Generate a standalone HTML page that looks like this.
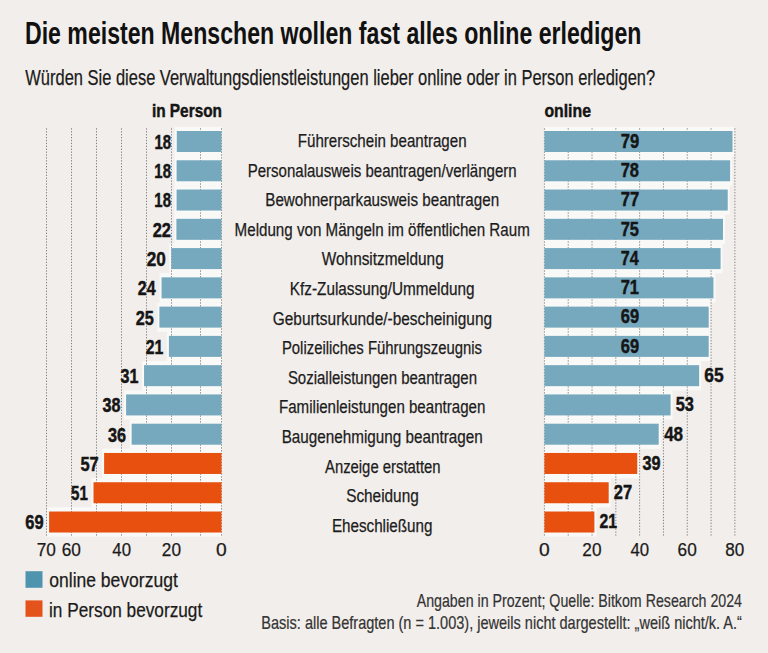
<!DOCTYPE html>
<html lang="de"><head><meta charset="utf-8"><title>Die meisten Menschen wollen fast alles online erledigen</title>
<style>
html,body{margin:0;padding:0;background:#f2eeeb;}
body{width:768px;height:653px;overflow:hidden;}
svg{display:block;font-family:"Liberation Sans",Arial,sans-serif;}
.g{stroke:#808080;stroke-width:1;stroke-dasharray:1.3 1.6;}
.sb{stroke:#151515;stroke-width:0.45;}
.sr{stroke:#1c1c1c;stroke-width:0.25;}
.s3{stroke:#333;stroke-width:0.2;}
</style></head><body>
<svg width="768" height="653" viewBox="0 0 768 653">
<rect width="768" height="653" fill="#f2eeeb"/>
<rect x="174.80" y="126.80" width="47.20" height="29.40" fill="#f9f9f8"/>
<rect x="543.90" y="126.80" width="190.60" height="29.40" fill="#f9f9f8"/>
<rect x="174.60" y="156.07" width="47.40" height="29.40" fill="#f9f9f8"/>
<rect x="543.90" y="156.07" width="188.22" height="29.40" fill="#f9f9f8"/>
<rect x="174.60" y="185.34" width="47.40" height="29.40" fill="#f9f9f8"/>
<rect x="543.90" y="185.34" width="185.84" height="29.40" fill="#f9f9f8"/>
<rect x="174.40" y="214.61" width="47.60" height="29.40" fill="#f9f9f8"/>
<rect x="543.90" y="214.61" width="181.07" height="29.40" fill="#f9f9f8"/>
<rect x="169.30" y="243.88" width="52.70" height="29.40" fill="#f9f9f8"/>
<rect x="543.90" y="243.88" width="178.69" height="29.40" fill="#f9f9f8"/>
<rect x="159.60" y="273.15" width="62.40" height="29.40" fill="#f9f9f8"/>
<rect x="543.90" y="273.15" width="171.55" height="29.40" fill="#f9f9f8"/>
<rect x="157.40" y="302.42" width="64.60" height="29.40" fill="#f9f9f8"/>
<rect x="543.90" y="302.42" width="166.79" height="29.40" fill="#f9f9f8"/>
<rect x="166.90" y="331.69" width="55.10" height="29.40" fill="#f9f9f8"/>
<rect x="543.90" y="331.69" width="166.79" height="29.40" fill="#f9f9f8"/>
<rect x="142.05" y="360.96" width="79.95" height="29.40" fill="#f9f9f8"/>
<rect x="543.90" y="360.96" width="157.26" height="29.40" fill="#f9f9f8"/>
<rect x="124.10" y="390.23" width="97.90" height="29.40" fill="#f9f9f8"/>
<rect x="543.90" y="390.23" width="128.69" height="29.40" fill="#f9f9f8"/>
<rect x="129.65" y="419.50" width="92.35" height="29.40" fill="#f9f9f8"/>
<rect x="543.90" y="419.50" width="116.79" height="29.40" fill="#f9f9f8"/>
<rect x="102.10" y="448.77" width="119.90" height="29.40" fill="#f9f9f8"/>
<rect x="543.90" y="448.77" width="95.36" height="29.40" fill="#f9f9f8"/>
<rect x="91.50" y="478.04" width="130.50" height="29.40" fill="#f9f9f8"/>
<rect x="543.90" y="478.04" width="66.79" height="29.40" fill="#f9f9f8"/>
<rect x="47.10" y="507.31" width="174.90" height="29.40" fill="#f9f9f8"/>
<rect x="543.90" y="507.31" width="52.50" height="29.40" fill="#f9f9f8"/>
<line x1="221.50" y1="128.3" x2="221.50" y2="536.4" class="g"/>
<line x1="200.50" y1="128.3" x2="200.50" y2="536.4" class="g"/>
<line x1="171.50" y1="128.3" x2="171.50" y2="536.4" class="g"/>
<line x1="146.50" y1="128.3" x2="146.50" y2="536.4" class="g"/>
<line x1="121.50" y1="128.3" x2="121.50" y2="536.4" class="g"/>
<line x1="96.50" y1="128.3" x2="96.50" y2="536.4" class="g"/>
<line x1="71.50" y1="128.3" x2="71.50" y2="536.4" class="g"/>
<line x1="46.50" y1="128.3" x2="46.50" y2="536.4" class="g"/>
<line x1="544.40" y1="128.3" x2="544.40" y2="536.4" class="g"/>
<line x1="568.21" y1="128.3" x2="568.21" y2="536.4" class="g"/>
<line x1="592.02" y1="128.3" x2="592.02" y2="536.4" class="g"/>
<line x1="615.83" y1="128.3" x2="615.83" y2="536.4" class="g"/>
<line x1="639.64" y1="128.3" x2="639.64" y2="536.4" class="g"/>
<line x1="663.45" y1="128.3" x2="663.45" y2="536.4" class="g"/>
<line x1="687.26" y1="128.3" x2="687.26" y2="536.4" class="g"/>
<line x1="711.07" y1="128.3" x2="711.07" y2="536.4" class="g"/>
<line x1="734.88" y1="128.3" x2="734.88" y2="536.4" class="g"/>
<rect x="176.80" y="131.00" width="44.70" height="21.00" fill="#76a8be"/>
<rect x="544.40" y="131.00" width="188.10" height="21.00" fill="#76a8be"/>
<rect x="176.60" y="160.27" width="44.90" height="21.00" fill="#76a8be"/>
<rect x="544.40" y="160.27" width="185.72" height="21.00" fill="#76a8be"/>
<rect x="176.60" y="189.54" width="44.90" height="21.00" fill="#76a8be"/>
<rect x="544.40" y="189.54" width="183.34" height="21.00" fill="#76a8be"/>
<rect x="176.40" y="218.81" width="45.10" height="21.00" fill="#76a8be"/>
<rect x="544.40" y="218.81" width="178.57" height="21.00" fill="#76a8be"/>
<rect x="171.30" y="248.08" width="50.20" height="21.00" fill="#76a8be"/>
<rect x="544.40" y="248.08" width="176.19" height="21.00" fill="#76a8be"/>
<rect x="161.60" y="277.35" width="59.90" height="21.00" fill="#76a8be"/>
<rect x="544.40" y="277.35" width="169.05" height="21.00" fill="#76a8be"/>
<rect x="159.40" y="306.62" width="62.10" height="21.00" fill="#76a8be"/>
<rect x="544.40" y="306.62" width="164.29" height="21.00" fill="#76a8be"/>
<rect x="168.90" y="335.89" width="52.60" height="21.00" fill="#76a8be"/>
<rect x="544.40" y="335.89" width="164.29" height="21.00" fill="#76a8be"/>
<rect x="144.05" y="365.16" width="77.45" height="21.00" fill="#76a8be"/>
<rect x="544.40" y="365.16" width="154.76" height="21.00" fill="#76a8be"/>
<rect x="126.10" y="394.43" width="95.40" height="21.00" fill="#76a8be"/>
<rect x="544.40" y="394.43" width="126.19" height="21.00" fill="#76a8be"/>
<rect x="131.65" y="423.70" width="89.85" height="21.00" fill="#76a8be"/>
<rect x="544.40" y="423.70" width="114.29" height="21.00" fill="#76a8be"/>
<rect x="104.10" y="452.97" width="117.40" height="21.00" fill="#e8500f"/>
<rect x="544.40" y="452.97" width="92.86" height="21.00" fill="#e8500f"/>
<rect x="93.50" y="482.24" width="128.00" height="21.00" fill="#e8500f"/>
<rect x="544.40" y="482.24" width="64.29" height="21.00" fill="#e8500f"/>
<rect x="49.10" y="511.51" width="172.40" height="21.00" fill="#e8500f"/>
<rect x="544.40" y="511.51" width="50.00" height="21.00" fill="#e8500f"/>
<text x="171.16" y="148.90" text-anchor="end" textLength="16.60" lengthAdjust="spacingAndGlyphs" style="font-size:19.40px;font-weight:bold;" fill="#151515" class="sb">18</text>
<text x="620.69" y="147.70" text-anchor="start" textLength="18.43" lengthAdjust="spacingAndGlyphs" style="font-size:19.40px;font-weight:bold;" fill="#151515" class="sb">79</text>
<text x="382.17" y="146.90" text-anchor="middle" textLength="168.82" lengthAdjust="spacingAndGlyphs" style="font-size:18.30px;" fill="#1c1c1c" class="sr">Führerschein beantragen</text>
<text x="170.96" y="178.17" text-anchor="end" textLength="16.60" lengthAdjust="spacingAndGlyphs" style="font-size:19.40px;font-weight:bold;" fill="#151515" class="sb">18</text>
<text x="620.69" y="176.97" text-anchor="start" textLength="18.31" lengthAdjust="spacingAndGlyphs" style="font-size:19.40px;font-weight:bold;" fill="#151515" class="sb">78</text>
<text x="382.17" y="176.50" text-anchor="middle" textLength="268.91" lengthAdjust="spacingAndGlyphs" style="font-size:18.30px;" fill="#1c1c1c" class="sr">Personalausweis beantragen/verlängern</text>
<text x="170.96" y="207.44" text-anchor="end" textLength="16.60" lengthAdjust="spacingAndGlyphs" style="font-size:19.40px;font-weight:bold;" fill="#151515" class="sb">18</text>
<text x="620.68" y="206.24" text-anchor="start" textLength="18.55" lengthAdjust="spacingAndGlyphs" style="font-size:19.40px;font-weight:bold;" fill="#151515" class="sb">77</text>
<text x="382.17" y="206.10" text-anchor="middle" textLength="233.83" lengthAdjust="spacingAndGlyphs" style="font-size:18.30px;" fill="#1c1c1c" class="sr">Bewohnerparkausweis beantragen</text>
<text x="170.96" y="236.71" text-anchor="end" textLength="18.33" lengthAdjust="spacingAndGlyphs" style="font-size:19.40px;font-weight:bold;" fill="#151515" class="sb">22</text>
<text x="620.69" y="235.51" text-anchor="start" textLength="18.26" lengthAdjust="spacingAndGlyphs" style="font-size:19.40px;font-weight:bold;" fill="#151515" class="sb">75</text>
<text x="382.18" y="235.70" text-anchor="middle" textLength="295.14" lengthAdjust="spacingAndGlyphs" style="font-size:18.30px;" fill="#1c1c1c" class="sr">Meldung von Mängeln im öffentlichen Raum</text>
<text x="165.90" y="265.98" text-anchor="end" textLength="19.10" lengthAdjust="spacingAndGlyphs" style="font-size:19.40px;font-weight:bold;" fill="#151515" class="sb">20</text>
<text x="620.71" y="264.78" text-anchor="start" textLength="17.88" lengthAdjust="spacingAndGlyphs" style="font-size:19.40px;font-weight:bold;" fill="#151515" class="sb">74</text>
<text x="382.76" y="265.30" text-anchor="middle" textLength="121.86" lengthAdjust="spacingAndGlyphs" style="font-size:18.30px;" fill="#1c1c1c" class="sr">Wohnsitzmeldung</text>
<text x="155.59" y="295.25" text-anchor="end" textLength="17.74" lengthAdjust="spacingAndGlyphs" style="font-size:19.40px;font-weight:bold;" fill="#151515" class="sb">24</text>
<text x="620.69" y="294.05" text-anchor="start" textLength="18.26" lengthAdjust="spacingAndGlyphs" style="font-size:19.40px;font-weight:bold;" fill="#151515" class="sb">71</text>
<text x="382.17" y="294.90" text-anchor="middle" textLength="184.74" lengthAdjust="spacingAndGlyphs" style="font-size:18.30px;" fill="#1c1c1c" class="sr">Kfz-Zulassung/Ummeldung</text>
<text x="153.75" y="324.52" text-anchor="end" textLength="18.12" lengthAdjust="spacingAndGlyphs" style="font-size:19.40px;font-weight:bold;" fill="#151515" class="sb">25</text>
<text x="620.80" y="323.32" text-anchor="start" textLength="18.31" lengthAdjust="spacingAndGlyphs" style="font-size:19.40px;font-weight:bold;" fill="#151515" class="sb">69</text>
<text x="382.41" y="324.50" text-anchor="middle" textLength="219.27" lengthAdjust="spacingAndGlyphs" style="font-size:18.30px;" fill="#1c1c1c" class="sr">Geburtsurkunde/-bescheinigung</text>
<text x="163.24" y="353.79" text-anchor="end" textLength="17.59" lengthAdjust="spacingAndGlyphs" style="font-size:19.40px;font-weight:bold;" fill="#151515" class="sb">21</text>
<text x="620.80" y="352.59" text-anchor="start" textLength="18.31" lengthAdjust="spacingAndGlyphs" style="font-size:19.40px;font-weight:bold;" fill="#151515" class="sb">69</text>
<text x="381.96" y="354.10" text-anchor="middle" textLength="200.06" lengthAdjust="spacingAndGlyphs" style="font-size:18.30px;" fill="#1c1c1c" class="sr">Polizeiliches Führungszeugnis</text>
<text x="138.40" y="383.06" text-anchor="end" textLength="17.92" lengthAdjust="spacingAndGlyphs" style="font-size:19.40px;font-weight:bold;" fill="#151515" class="sb">31</text>
<text x="704.23" y="381.96" text-anchor="start" textLength="19.43" lengthAdjust="spacingAndGlyphs" style="font-size:19.40px;font-weight:bold;" fill="#151515" class="sb">65</text>
<text x="382.45" y="383.70" text-anchor="middle" textLength="189.15" lengthAdjust="spacingAndGlyphs" style="font-size:18.30px;" fill="#1c1c1c" class="sr">Sozialleistungen beantragen</text>
<text x="120.50" y="412.33" text-anchor="end" textLength="17.97" lengthAdjust="spacingAndGlyphs" style="font-size:19.40px;font-weight:bold;" fill="#151515" class="sb">38</text>
<text x="675.79" y="411.23" text-anchor="start" textLength="18.19" lengthAdjust="spacingAndGlyphs" style="font-size:19.40px;font-weight:bold;" fill="#151515" class="sb">53</text>
<text x="382.17" y="413.30" text-anchor="middle" textLength="206.32" lengthAdjust="spacingAndGlyphs" style="font-size:18.30px;" fill="#1c1c1c" class="sr">Familienleistungen beantragen</text>
<text x="126.14" y="441.60" text-anchor="end" textLength="18.06" lengthAdjust="spacingAndGlyphs" style="font-size:19.40px;font-weight:bold;" fill="#151515" class="sb">36</text>
<text x="664.13" y="440.50" text-anchor="start" textLength="18.98" lengthAdjust="spacingAndGlyphs" style="font-size:19.40px;font-weight:bold;" fill="#151515" class="sb">48</text>
<text x="382.17" y="442.90" text-anchor="middle" textLength="200.99" lengthAdjust="spacingAndGlyphs" style="font-size:18.30px;" fill="#1c1c1c" class="sr">Baugenehmigung beantragen</text>
<text x="98.72" y="470.87" text-anchor="end" textLength="18.33" lengthAdjust="spacingAndGlyphs" style="font-size:19.40px;font-weight:bold;" fill="#151515" class="sb">57</text>
<text x="642.59" y="469.77" text-anchor="start" textLength="18.08" lengthAdjust="spacingAndGlyphs" style="font-size:19.40px;font-weight:bold;" fill="#151515" class="sb">39</text>
<text x="382.77" y="472.50" text-anchor="middle" textLength="115.59" lengthAdjust="spacingAndGlyphs" style="font-size:18.30px;" fill="#1c1c1c" class="sr">Anzeige erstatten</text>
<text x="87.82" y="500.14" text-anchor="end" textLength="16.78" lengthAdjust="spacingAndGlyphs" style="font-size:19.40px;font-weight:bold;" fill="#151515" class="sb">51</text>
<text x="613.81" y="499.04" text-anchor="start" textLength="18.40" lengthAdjust="spacingAndGlyphs" style="font-size:19.40px;font-weight:bold;" fill="#151515" class="sb">27</text>
<text x="382.45" y="502.10" text-anchor="middle" textLength="72.54" lengthAdjust="spacingAndGlyphs" style="font-size:18.30px;" fill="#1c1c1c" class="sr">Scheidung</text>
<text x="43.61" y="529.41" text-anchor="end" textLength="18.31" lengthAdjust="spacingAndGlyphs" style="font-size:19.40px;font-weight:bold;" fill="#151515" class="sb">69</text>
<text x="599.55" y="528.31" text-anchor="start" textLength="17.59" lengthAdjust="spacingAndGlyphs" style="font-size:19.40px;font-weight:bold;" fill="#151515" class="sb">21</text>
<text x="382.17" y="531.70" text-anchor="middle" textLength="100.58" lengthAdjust="spacingAndGlyphs" style="font-size:18.30px;" fill="#1c1c1c" class="sr">Eheschließung</text>
<text x="151.93" y="116.60" text-anchor="start" textLength="70.03" lengthAdjust="spacingAndGlyphs" style="font-size:17.80px;font-weight:bold;" fill="#151515" class="sb">in Person</text>
<text x="544.38" y="116.90" text-anchor="start" textLength="46.56" lengthAdjust="spacingAndGlyphs" style="font-size:18.30px;font-weight:bold;" fill="#151515" class="sb">online</text>
<text x="24.95" y="43.90" text-anchor="start" textLength="616.48" lengthAdjust="spacingAndGlyphs" style="font-size:31.60px;font-weight:bold;" fill="#111">Die meisten Menschen wollen fast alles online erledigen</text>
<text x="25.33" y="85.30" text-anchor="start" textLength="629.78" lengthAdjust="spacingAndGlyphs" style="font-size:22.30px;" fill="#1a1a1a" class="sr">Würden Sie diese Verwaltungsdienstleistungen lieber online oder in Person erledigen?</text>
<text x="46.29" y="556.40" text-anchor="middle" textLength="19.16" lengthAdjust="spacingAndGlyphs" style="font-size:18.30px;" fill="#1a1a1a" class="sr">70</text>
<text x="71.20" y="556.40" text-anchor="middle" textLength="19.15" lengthAdjust="spacingAndGlyphs" style="font-size:18.30px;" fill="#1a1a1a" class="sr">60</text>
<text x="121.64" y="556.40" text-anchor="middle" textLength="18.64" lengthAdjust="spacingAndGlyphs" style="font-size:18.30px;" fill="#1a1a1a" class="sr">40</text>
<text x="171.40" y="556.40" text-anchor="middle" textLength="19.14" lengthAdjust="spacingAndGlyphs" style="font-size:18.30px;" fill="#1a1a1a" class="sr">20</text>
<text x="221.40" y="556.40" text-anchor="middle" textLength="10.70" lengthAdjust="spacingAndGlyphs" style="font-size:18.30px;" fill="#1a1a1a" class="sr">0</text>
<text x="544.40" y="556.40" text-anchor="middle" textLength="10.70" lengthAdjust="spacingAndGlyphs" style="font-size:18.30px;" fill="#1a1a1a" class="sr">0</text>
<text x="591.92" y="556.40" text-anchor="middle" textLength="19.14" lengthAdjust="spacingAndGlyphs" style="font-size:18.30px;" fill="#1a1a1a" class="sr">20</text>
<text x="639.78" y="556.40" text-anchor="middle" textLength="18.64" lengthAdjust="spacingAndGlyphs" style="font-size:18.30px;" fill="#1a1a1a" class="sr">40</text>
<text x="687.16" y="556.40" text-anchor="middle" textLength="19.15" lengthAdjust="spacingAndGlyphs" style="font-size:18.30px;" fill="#1a1a1a" class="sr">60</text>
<text x="734.84" y="556.40" text-anchor="middle" textLength="19.01" lengthAdjust="spacingAndGlyphs" style="font-size:18.30px;" fill="#1a1a1a" class="sr">80</text>
<rect x="25.5" y="571.2" width="17" height="16.6" fill="#4f94ae"/>
<rect x="25.5" y="600.4" width="17" height="16.4" fill="#e4531b"/>
<text x="49.26" y="587.40" text-anchor="start" textLength="128.56" lengthAdjust="spacingAndGlyphs" style="font-size:21.00px;" fill="#1a1a1a" class="sr">online bevorzugt</text>
<text x="49.05" y="616.60" text-anchor="start" textLength="153.18" lengthAdjust="spacingAndGlyphs" style="font-size:21.00px;" fill="#1a1a1a" class="sr">in Person bevorzugt</text>
<text x="416.67" y="607.10" text-anchor="start" textLength="325.34" lengthAdjust="spacingAndGlyphs" style="font-size:18.20px;" fill="#333" class="s3">Angaben in Prozent; Quelle: Bitkom Research 2024</text>
<text x="261.31" y="629.20" text-anchor="start" textLength="480.62" lengthAdjust="spacingAndGlyphs" style="font-size:18.20px;" fill="#333" class="s3">Basis: alle Befragten (n = 1.003), jeweils nicht dargestellt: „weiß nicht/k. A.“</text>
</svg>
</body></html>
